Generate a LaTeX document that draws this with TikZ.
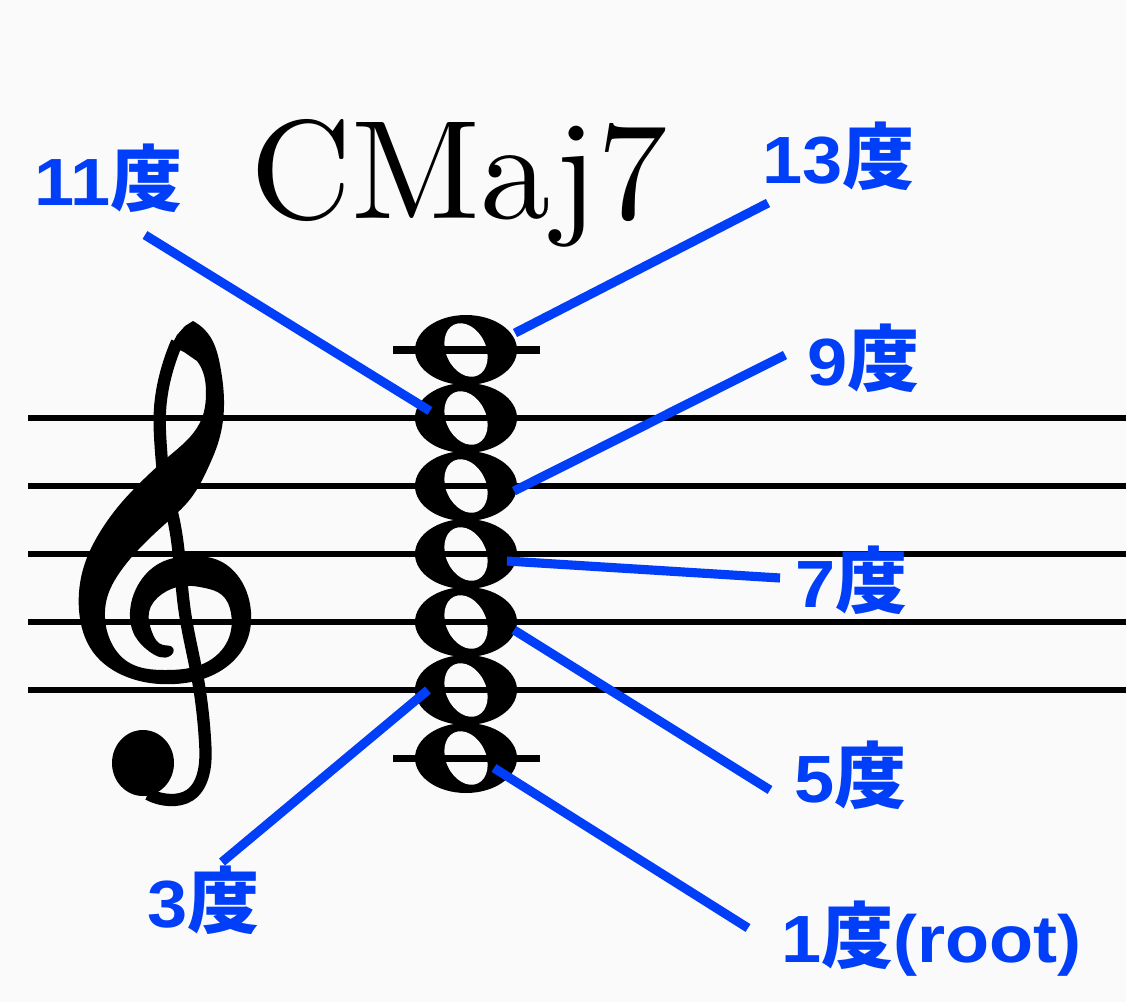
\documentclass[tikz,border=0pt]{standalone}
\usepackage{fontspec}
\newfontfamily\labelfont{Liberation Sans}[FakeStretch=1.08]
\newfontfamily\cjk{Noto Sans CJK JP}
\newfontfamily\chordfont{lmroman10-regular.otf}
\usetikzlibrary{positioning,hobby}
\definecolor{degblue}{RGB}{0,62,248}
\definecolor{paper}{RGB}{250,250,250}
\newcommand{\degtext}[1]{{\labelfont\bfseries #1}{\cjk\bfseries\fontsize{41}{44}\selectfont 度}}

\begin{document}
\begin{tikzpicture}[x=0.02cm, y=-0.02cm, every node/.style={inner sep=0pt},
		degree/.style={text=degblue, font=\fontsize{38}{40}\selectfont, anchor=base west},
		pointer/.style={draw=degblue, line width=5.2pt},
		staffline/.style={line width=3pt}]
			\fill[paper] (0,0) rectangle (1126,1002);
			\useasboundingbox (0,0) rectangle (1126,1002);
			% noteheads C E G B D F A
			\foreach \y in {350,418,...,758}
				\fill (466,\y) ellipse [x radius=51, y radius=35];
			\foreach \y in {350,418,...,758}
				\fill[paper, rotate around={25:(466,\y)}] (466,\y) ellipse [x radius=20, y radius=28];
			% staff
			\foreach \y in {418,486,...,690}
				\draw[staffline] (28,\y) -- (1126,\y);
			\foreach \y in {350,758}
				\draw[line width=4pt] (393,\y) -- (540,\y);
			% treble clef
			\fill[use Hobby shortcut] (193,321) .. (211,338) .. (220,365) .. (224,400) .. (219,440) .. (208,468)
				.. (191,498) .. (165,524) .. (138,550) .. (120,572) .. (107,598) .. (105,618) .. (111,642)
				.. (128,662) .. (165,670) .. (205,663) .. (228,640) .. (231,613) .. (222,595) .. (205,588)
				.. (183,586) .. (162,594) .. (149,612) .. (152,632) .. (163,645) .. (173,648)
				.. (170,656) .. (150,652) .. (135,636) .. (130,612) .. (138,585) .. (160,563) .. (190,556)
				.. (220,561) .. (242,582) .. (251,612) .. (245,645) .. (222,670) .. (175,684) .. (127,677)
				.. (93,652) .. (79,610) .. (84,566) .. (100,532) .. (122,502) .. (145,478) .. (168,457)
				.. (190,437) .. (202,418) .. (206,393) .. (203,372) .. (197,361) -- (184,352) -- (171,346)
				-- (177,335) -- (185,326) -- cycle;
			\draw[use Hobby shortcut, line width=7pt] (177,342) .. (167,370)
				.. (160,410) .. (161,450) .. (166,490) .. (172,513) .. (185,613) .. (198,680) .. (205,740)
				.. (203,775) .. (190,795) .. (170,800) .. (148,794);
			\fill (143,763) ellipse [x radius=31, y radius=33];
			% chord name
			\node[font=\chordfont\fontsize{80}{90}\selectfont, anchor=base] (chord) at (459,218) {CMaj7};
			% degree labels
			\node[degree] (d11) at (34,205) {\degtext{11}};
			\node[degree] (d13) at (762,183) {\degtext{13}};
			\node[degree] (d9) at (807,385) {\degtext{9}};
			\node[degree] (d7) at (795,607) {\degtext{7}};
			\node[degree] (d5) at (794,802) {\degtext{5}};
			\node[degree] (d3) at (147,927) {\degtext{3}};
			\node[degree] (d1) at (781,962) {\degtext{1}{\labelfont\bfseries(root)}};
			% pointers
			\coordinate (from11) at (145,235);  \coordinate (to11) at (430,411);
			\coordinate (from13) at (768,203);  \coordinate (to13) at (515,333);
			\coordinate (from9) at (785,355);   \coordinate (to9) at (514,491);
			\coordinate (from7) at (780,578);   \coordinate (to7) at (507,561);
			\coordinate (from5) at (770,790);   \coordinate (to5) at (514,630);
			\coordinate (from3) at (222,862);   \coordinate (to3) at (428,690);
			\coordinate (from1) at (748,928);   \coordinate (to1) at (494,768);
			\foreach \from/\to in {from11/to11, from13/to13, from9/to9, from7/to7, from5/to5, from3/to3, from1/to1}
				\draw[pointer] (\from) -- (\to);
		\end{tikzpicture}
\end{document}
